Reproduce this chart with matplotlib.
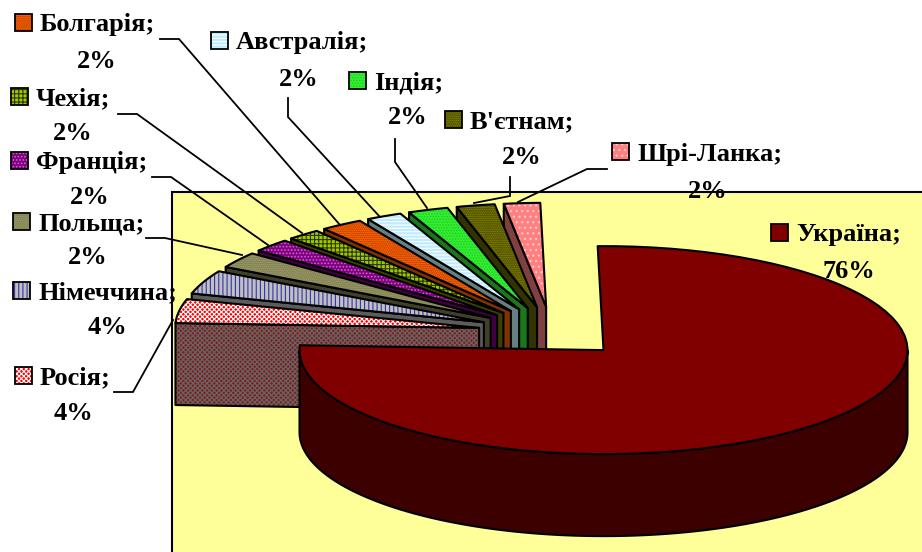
import numpy as np
import matplotlib
matplotlib.use('Agg')
import matplotlib.pyplot as plt
from matplotlib.patches import Polygon, Rectangle

# clockwise from 12 o'clock, unrounded shares estimated so they total 100
countries = ['Україна', 'Росія', 'Німеччина', 'Польща', 'Франція', 'Чехія',
             'Болгарія', 'Австралія', 'Індія', "В'єтнам", 'Шрі-Ланка']
shares = [76.05, 3.72, 3.69, 2.49, 2.05, 1.78, 2.25, 1.89, 2.13, 2.03, 1.92]

top_colors = ['#800000', '#FF0000', '#C0C0C0', '#808050', '#800080', '#99CC00',
              '#FF6600', '#BDEBFF', '#33EE33', '#3F3F00', '#FF8080']
side_colors = ['#3D0000', '#7F2020', '#5C5C5C', '#404028', '#400040', '#3A4000',
               '#803300', '#667F80', '#1A771A', '#333300', '#804040']
hatch_colors = ['#800000', '#FFFFFF', '#3333AA', '#A0A070', '#CC66CC', '#333300',
                '#AA3300', '#FFFFFF', '#22CC22', '#999900', '#FFCCCC']
side_hatch_colors = ['#3D0000', '#666666', '#5C5C5C', '#404028', '#400040', '#3A4000',
                     '#803300', '#667F80', '#1A771A', '#333300', '#804040']
hatches = [None, 'xxxxxxx', '||||', '........', '.....', '++++', '........',
           '-----', '......', '.........', '...']

# label anchors in pixels: key left, first line y, centre of the percent line, percent y
label_pos = [(771, 233, 849, 269), (15, 376, 73, 411), (13, 291, 107, 325),
             (13, 222, 88, 256), (11, 161, 90, 195), (11, 97, 73, 132),
             (15, 23, 97, 59), (211, 41, 299, 78), (349, 81, 408, 116),
             (445, 120, 522, 156), (612, 152, 708, 189)]
leaders = [None,
           [(114, 392), (133, 392), (173, 320)],
           None,
           [(146, 238), (165, 238), (242, 255)],
           [(152, 177), (171, 177), (268, 245)],
           [(118, 114), (137, 114), (302, 233)],
           [(160, 39), (179, 39), (340, 225)],
           [(288, 98), (288, 117), (380, 217)],
           [(395, 139), (395, 162), (427, 208)],
           [(510, 177), (510, 196), (474, 203)],
           [(607, 169), (587, 169), (518, 202)]]

CX, CY = 552, 332
RX, RY = 304, 104
DEPTH = 82
EXPLODE = 0.243
ROTATION = np.radians(-1.1)

plt.rcParams['font.family'] = ['Liberation Serif', 'DejaVu Serif']
plt.rcParams['hatch.linewidth'] = 0.8

fig = plt.figure(figsize=(9.22, 5.52), dpi=100)
ax = fig.add_axes([0, 0, 1, 1])
ax.set_xlim(0, 922)
ax.set_ylim(552, 0)
ax.axis('off')

ax.add_patch(Rectangle((172, 192), 770, 380, facecolor='#FFFF99', edgecolor='black', lw=1.5))


def draw_poly(pts, color, hatch_color, hatch):
    if hatch:
        ax.add_patch(Polygon(pts, facecolor=color, edgecolor=hatch_color, hatch=hatch, lw=0))
    else:
        ax.add_patch(Polygon(pts, facecolor=color, edgecolor='none'))
    ax.add_patch(Polygon(pts, fill=False, edgecolor='black', lw=1.5, joinstyle='round'))


def ell(x, y, t):
    return x + RX * np.sin(t), y - RY * np.cos(t)


fractions = np.array(shares) / sum(shares) * 2 * np.pi
starts = np.concatenate([[0], np.cumsum(fractions)[:-1]]) + ROTATION
ends = starts + fractions

# back to front: Sri Lanka first, Russia, then the big slice on top
for i in list(range(len(shares) - 1, 0, -1)) + [0]:
    mid = (starts[i] + ends[i]) / 2
    x0, y0 = ell(CX, CY, mid)
    x0 = CX + (x0 - CX) * EXPLODE
    y0 = CY + (y0 - CY) * EXPLODE

    t = np.linspace(starts[i], ends[i], 80)
    ax_x, ax_y = ell(x0, y0, t)
    top = np.column_stack([np.r_[x0, ax_x], np.r_[y0, ax_y]])

    if i == 0:
        # outer wall, only the front half can be seen
        tw = np.linspace(np.pi / 2, min(ends[i], 3 * np.pi / 2), 120)
        wx, wy = ell(x0, y0, tw)
        wall = np.column_stack([np.r_[wx, wx[::-1]], np.r_[wy, wy[::-1] + DEPTH]])
        draw_poly(wall, side_colors[i], side_hatch_colors[i], None)
    else:
        ox, oy = ell(x0, y0, starts[i])
        face = [(x0, y0), (ox, oy), (ox, oy + DEPTH), (x0, y0 + DEPTH)]
        draw_poly(face, side_colors[i], side_hatch_colors[i], 'xxxxxxx' if i == 1 else None)

    draw_poly(top, top_colors[i], hatch_colors[i], hatches[i])

for line in leaders:
    if line:
        ax.plot(*zip(*line), color='black', lw=1.3, solid_joinstyle='miter')

for i, name in enumerate(countries):
    kx, ly, px, py = label_pos[i]
    if hatches[i]:
        ax.add_patch(Rectangle((kx, ly - 9), 17, 17, facecolor=top_colors[i],
                               edgecolor=hatch_colors[i], hatch=hatches[i], lw=0, zorder=5))
    else:
        ax.add_patch(Rectangle((kx, ly - 9), 17, 17, facecolor=top_colors[i], zorder=5))
    ax.add_patch(Rectangle((kx, ly - 9), 17, 17, fill=False, edgecolor='black', lw=1.3, zorder=6))
    ax.text(kx + 25, ly + 2, name + ';', fontsize=19, fontweight='bold', ha='left',
            va='center', zorder=7)
    ax.text(px, py + 2, f'{shares[i]:.0f}%', fontsize=19, fontweight='bold', ha='center',
            va='center', zorder=7)

fig.savefig('out.png', dpi=100)
